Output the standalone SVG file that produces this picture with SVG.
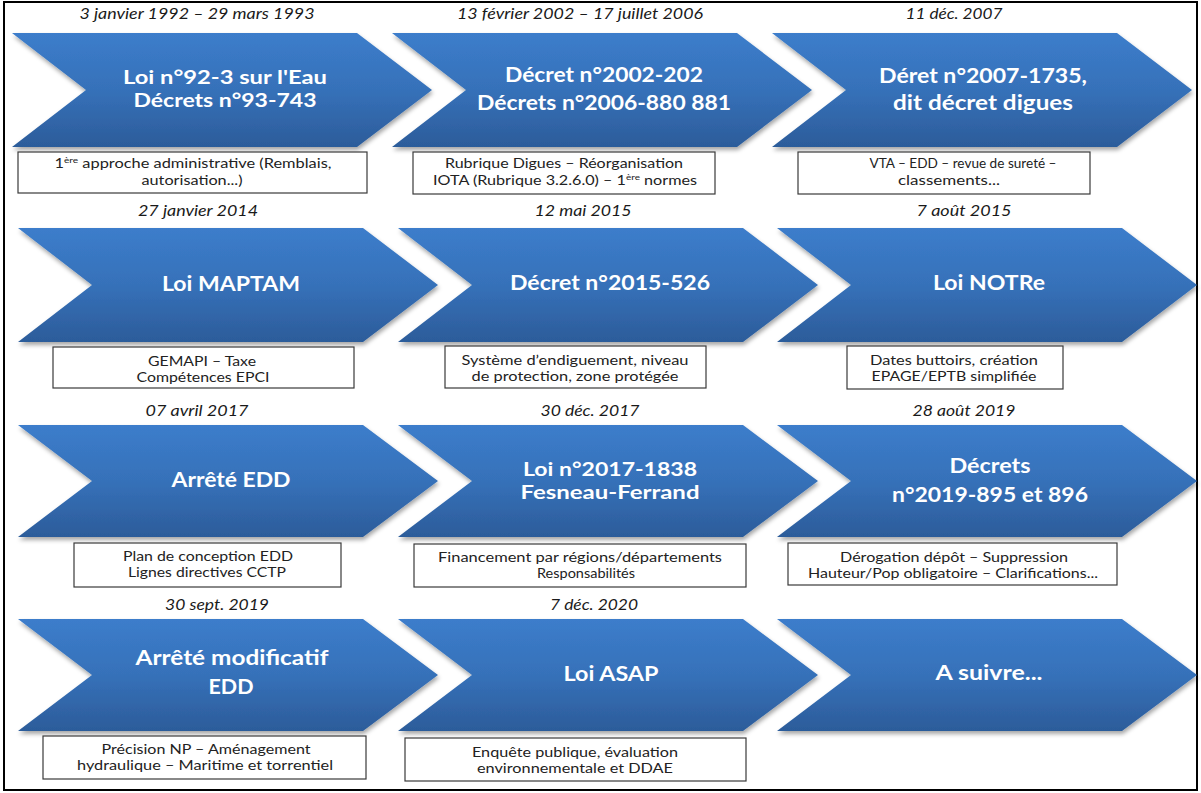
<svg xmlns="http://www.w3.org/2000/svg" width="1201" height="793" viewBox="0 0 1201 793">
<defs>
<linearGradient id="gb" x1="0" y1="0" x2="0" y2="1">
<stop offset="0" stop-color="#3C7DCB"/>
<stop offset="0.5" stop-color="#3671B9"/>
<stop offset="1" stop-color="#2C5C9A"/>
</linearGradient>
<filter id="sh" x="-5%" y="-10%" width="112%" height="125%">
<feDropShadow dx="1" dy="3" stdDeviation="2" flood-color="#000" flood-opacity="0.35"/>
</filter>
<path id="chev" d="M0,0 H345 L420,56.5 L345,113 H0 L74,56.5 Z"/>
</defs>
<style>
.ch{fill:url(#gb);filter:url(#sh)}
.dt{font-family:Lato,"Open Sans","Liberation Sans",sans-serif;font-style:italic;font-size:15px;fill:#1a1a1a;text-anchor:middle}
.tt{font-family:Lato,"Open Sans","Liberation Sans",sans-serif;font-weight:bold;font-size:20px;fill:#ffffff;text-anchor:middle}
.tt2{font-size:18.5px}
.bx{fill:#ffffff;stroke:#3a3a3a;stroke-width:1.2}
.bt{font-family:Lato,"Open Sans","Liberation Sans",sans-serif;font-size:13px;fill:#222222;text-anchor:middle}
.sup{font-size:8px}
</style>
<rect x="0" y="0" width="1201" height="793" fill="#ffffff"/>
<rect x="4" y="2" width="1193" height="788" fill="none" stroke="#000" stroke-width="2"/>
<g id="connectors"/>

<g id="n1">
<text class="dt" x="197" y="19" textLength="235" lengthAdjust="spacingAndGlyphs">3 janvier 1992 – 29 mars 1993</text>
<use href="#chev" class="ch" transform="translate(12,33) scale(1,1.009)"/>
<text class="tt tt2" x="225" y="84" textLength="204" lengthAdjust="spacingAndGlyphs">Loi n°92-3 sur l'Eau</text>
<text class="tt tt2" x="225" y="107" textLength="183" lengthAdjust="spacingAndGlyphs">Décrets n°93-743</text>
<rect class="bx" x="18" y="152" width="349" height="41"/>
<text class="bt" x="193" y="168" textLength="277" lengthAdjust="spacingAndGlyphs">1<tspan class="sup" dy="-5">ère</tspan><tspan dy="5"> approche administrative (Remblais,</tspan></text>
<text class="bt" x="192" y="185" textLength="101" lengthAdjust="spacingAndGlyphs">autorisation...)</text>
</g>

<g id="n2">
<text class="dt" x="580" y="19" textLength="246" lengthAdjust="spacingAndGlyphs">13 février 2002 – 17 juillet 2006</text>
<use href="#chev" class="ch" transform="translate(392,33) scale(1,1.009)"/>
<text class="tt" x="604" y="82" textLength="198" lengthAdjust="spacingAndGlyphs">Décret n°2002-202</text>
<text class="tt" x="604" y="110" textLength="254" lengthAdjust="spacingAndGlyphs">Décrets n°2006-880 881</text>
<rect class="bx" x="413" y="152" width="302" height="42"/>
<text class="bt" x="564" y="168" textLength="238" lengthAdjust="spacingAndGlyphs">Rubrique Digues – Réorganisation</text>
<text class="bt" x="565" y="185" textLength="264" lengthAdjust="spacingAndGlyphs">IOTA (Rubrique 3.2.6.0) – 1<tspan class="sup" dy="-5">ère</tspan><tspan dy="5"> normes</tspan></text>
</g>

<g id="n3">
<text class="dt" x="954" y="19" textLength="97" lengthAdjust="spacingAndGlyphs">11 déc. 2007</text>
<use href="#chev" class="ch" transform="translate(772,33) scale(1,1.009)"/>
<text class="tt" x="983" y="83" textLength="208" lengthAdjust="spacingAndGlyphs">Déret n°2007-1735,</text>
<text class="tt" x="983" y="110" textLength="180" lengthAdjust="spacingAndGlyphs">dit décret digues</text>
<rect class="bx" x="798" y="152" width="292" height="42"/>
<text class="bt" x="963" y="168" textLength="187" lengthAdjust="spacingAndGlyphs">VTA – EDD – revue de sureté –</text>
<text class="bt" x="949" y="185" textLength="102" lengthAdjust="spacingAndGlyphs">classements...</text>
</g>

<g id="n4">
<text class="dt" x="198" y="216" textLength="120" lengthAdjust="spacingAndGlyphs">27 janvier 2014</text>
<use href="#chev" class="ch" transform="translate(18,228) scale(1,1.009)"/>
<text class="tt" x="231" y="291" textLength="138" lengthAdjust="spacingAndGlyphs">Loi MAPTAM</text>
<rect class="bx" x="53" y="347" width="301" height="41"/>
<text class="bt" x="202" y="366" textLength="108" lengthAdjust="spacingAndGlyphs">GEMAPI – Taxe</text>
<text class="bt" x="203" y="382" textLength="133" lengthAdjust="spacingAndGlyphs">Compétences EPCI</text>
</g>

<g id="n5">
<text class="dt" x="583" y="216" textLength="97" lengthAdjust="spacingAndGlyphs">12 mai 2015</text>
<use href="#chev" class="ch" transform="translate(398,228) scale(1,1.009)"/>
<text class="tt" x="610" y="290" textLength="200" lengthAdjust="spacingAndGlyphs">Décret n°2015-526</text>
<rect class="bx" x="445" y="346" width="261" height="42"/>
<text class="bt" x="575" y="365" textLength="227" lengthAdjust="spacingAndGlyphs">Système d’endiguement, niveau</text>
<text class="bt" x="575" y="381" textLength="207" lengthAdjust="spacingAndGlyphs">de protection, zone protégée</text>
</g>

<g id="n6">
<text class="dt" x="964" y="216" textLength="95" lengthAdjust="spacingAndGlyphs">7 août 2015</text>
<use href="#chev" class="ch" transform="translate(777,228) scale(1,1.009)"/>
<text class="tt" x="989" y="290" textLength="112" lengthAdjust="spacingAndGlyphs">Loi NOTRe</text>
<rect class="bx" x="847" y="346" width="216" height="43"/>
<text class="bt" x="954" y="365" textLength="168" lengthAdjust="spacingAndGlyphs">Dates buttoirs, création</text>
<text class="bt" x="954" y="381" textLength="165" lengthAdjust="spacingAndGlyphs">EPAGE/EPTB simplifiée</text>
</g>

<g id="n7">
<text class="dt" x="197" y="416" textLength="103" lengthAdjust="spacingAndGlyphs">07 avril 2017</text>
<use href="#chev" class="ch" transform="translate(18,425) scale(1,0.991)"/>
<text class="tt" x="231" y="487" textLength="119" lengthAdjust="spacingAndGlyphs">Arrêté EDD</text>
<rect class="bx" x="74" y="543" width="267" height="44"/>
<text class="bt" x="208" y="561" textLength="170" lengthAdjust="spacingAndGlyphs">Plan de conception EDD</text>
<text class="bt" x="207" y="577" textLength="158" lengthAdjust="spacingAndGlyphs">Lignes directives CCTP</text>
</g>

<g id="n8">
<text class="dt" x="590" y="416" textLength="99" lengthAdjust="spacingAndGlyphs">30 déc. 2017</text>
<use href="#chev" class="ch" transform="translate(398,425) scale(1,0.991)"/>
<text class="tt tt2" x="610" y="476" textLength="174" lengthAdjust="spacingAndGlyphs">Loi n°2017-1838</text>
<text class="tt tt2" x="610" y="499" textLength="179" lengthAdjust="spacingAndGlyphs">Fesneau-Ferrand</text>
<rect class="bx" x="414" y="544" width="332" height="43"/>
<text class="bt" x="580" y="562" textLength="284" lengthAdjust="spacingAndGlyphs">Financement par régions/départements</text>
<text class="bt" x="586" y="578" textLength="98" lengthAdjust="spacingAndGlyphs">Responsabilités</text>
</g>

<g id="n9">
<text class="dt" x="964" y="416" textLength="103" lengthAdjust="spacingAndGlyphs">28 août 2019</text>
<use href="#chev" class="ch" transform="translate(777,425) scale(1,0.991)"/>
<text class="tt" x="990" y="473" textLength="81" lengthAdjust="spacingAndGlyphs">Décrets</text>
<text class="tt" x="990" y="502" textLength="196" lengthAdjust="spacingAndGlyphs">n°2019-895 et 896</text>
<rect class="bx" x="788" y="543" width="329" height="42"/>
<text class="bt" x="954" y="562" textLength="228" lengthAdjust="spacingAndGlyphs">Dérogation dépôt – Suppression</text>
<text class="bt" x="953" y="578" textLength="290" lengthAdjust="spacingAndGlyphs">Hauteur/Pop obligatoire – Clarifications...</text>
</g>

<g id="n10">
<text class="dt" x="217" y="610" textLength="104" lengthAdjust="spacingAndGlyphs">30 sept. 2019</text>
<use href="#chev" class="ch" transform="translate(18,619) scale(1,0.991)"/>
<text class="tt" x="232" y="665" textLength="193" lengthAdjust="spacingAndGlyphs">Arrêté modificatif</text>
<text class="tt" x="231" y="694" textLength="45" lengthAdjust="spacingAndGlyphs">EDD</text>
<rect class="bx" x="43" y="736" width="323" height="43"/>
<text class="bt" x="206" y="754" textLength="209" lengthAdjust="spacingAndGlyphs">Précision NP – Aménagement</text>
<text class="bt" x="205" y="770" textLength="256" lengthAdjust="spacingAndGlyphs">hydraulique – Maritime et torrentiel</text>
</g>

<g id="n11">
<text class="dt" x="594" y="610" textLength="88" lengthAdjust="spacingAndGlyphs">7 déc. 2020</text>
<use href="#chev" class="ch" transform="translate(398,619) scale(1,0.991)"/>
<text class="tt" x="611" y="681" textLength="95" lengthAdjust="spacingAndGlyphs">Loi ASAP</text>
<rect class="bx" x="405" y="738" width="341" height="43"/>
<text class="bt" x="575" y="757" textLength="206" lengthAdjust="spacingAndGlyphs">Enquête publique, évaluation</text>
<text class="bt" x="575" y="773" textLength="196" lengthAdjust="spacingAndGlyphs">environnementale et DDAE</text>
</g>

<g id="n12">
<use href="#chev" class="ch" transform="translate(777,619) scale(1,0.991)"/>
<text class="tt" x="989" y="680" textLength="107" lengthAdjust="spacingAndGlyphs">A suivre...</text>
</g>
</svg>
